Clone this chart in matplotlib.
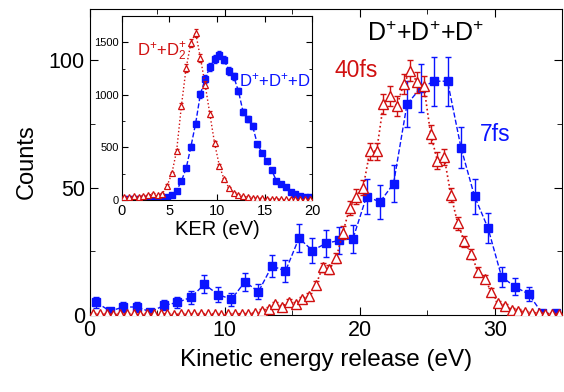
import numpy as np
import matplotlib
matplotlib.use("Agg")
from matplotlib import pyplot as plt
from matplotlib.ticker import MultipleLocator

plt.rcParams['font.family'] = ['Liberation Sans', 'DejaVu Sans']
plt.rcParams['mathtext.fontset'] = 'custom'
plt.rcParams['mathtext.rm'] = 'Liberation Sans'
plt.rcParams['mathtext.it'] = 'Liberation Sans'

BLUE = '#0a14ff'
RED = '#d01010'

# main panel: 7fs (blue squares), 1 eV bins
ker_7fs = np.arange(0.5, 35, 1.0)
counts_7fs = [5.0, 1.6, 3.2, 3.2, 1.3, 3.8, 5.0, 7.0, 12.1, 8.1,
              6.2, 13.1, 9.2, 19.3, 17.3, 30.2, 25.3, 28.2, 29.3, 30.0,
              46.5, 44.4, 51.5, 82.7, 89.0, 91.7, 91.7, 65.6, 46.6, 34.1,
              15.1, 11.1, 8.3, 0.8, 0.8]

# main panel: 40fs (red open triangles), 0.5 eV bins
ker_40fs = np.arange(0.25, 35, 0.5)
counts_40fs = [0.5, 0.3, 0.6, 0.2, 0.4, 0.5, 0.3, 0.2, 0.4, 0.6,
               0.3, 0.5, 0.2, 0.4, 0.3, 0.5, 0.6, 0.3, 0.4, 0.2,
               0.5, 0.4, 0.6, 0.5, 0.7, 1.7, 2.6, 4.3, 3.3, 5.2,
               4.3, 6.2, 7.5, 11.8, 18.8, 18.0, 22.3, 32.4, 42.0, 46.5,
               50.0, 64.3, 64.3, 82.7, 85.9, 82.0, 90.6, 95.8, 91.2, 89.7,
               71.0, 60.5, 62.0, 47.1, 36.1, 28.9, 24.0, 17.0, 14.1, 9.2,
               4.8, 3.5, 2.2, 1.7, 1.3, 1.0, 0.8, 0.6, 0.5, 0.4]

# inset: two-body and three-body channels, 0.5 eV bins
ker_in = np.arange(0.25, 20, 0.5)
counts_3body = [5, 5, 5, 5, 8, 8, 10, 12, 18, 30,
                50, 88, 180, 300, 506, 727, 1006, 1151, 1265, 1338,
                1382, 1335, 1227, 1176, 1037, 838, 772, 702, 531, 449,
                370, 285, 183, 152, 120, 79, 57, 38, 32, 25]
counts_2body = [30, 25, 35, 28, 40, 45, 55, 45, 60,
                136, 253, 468, 892, 1255, 1493, 1591,
                1354, 1097, 816, 538, 326, 196, 117, 70,
                47, 35, 28, 22, 18, 15, 12, 10, 9, 8, 7, 6, 6, 5, 5, 5]

fig = plt.figure(figsize=(5.64, 3.92), dpi=100)
ax = fig.add_axes([0.159, 0.196, 0.838, 0.781])

c7 = np.array(counts_7fs)
c40 = np.array(counts_40fs)
ax.errorbar(ker_7fs, c7, yerr=np.sqrt(c7), fmt='s', color=BLUE, ms=6,
            capsize=2.5, elinewidth=1, capthick=1, zorder=2)
ax.plot(ker_7fs, c7, '--', color=BLUE, lw=1, zorder=1)
ax.plot(ker_40fs, c40, ':', color=RED, lw=1.2, zorder=3)
ax.errorbar(ker_40fs, c40, yerr=0.42 * np.sqrt(c40), fmt='^', color=RED,
            mfc='white', mec=RED, mew=1, ms=7, capsize=2.5, elinewidth=1,
            capthick=1, zorder=4)

ax.set_xlim(0, 35)
ax.set_ylim(0, 120)
ax.xaxis.set_major_locator(MultipleLocator(10))
ax.xaxis.set_minor_locator(MultipleLocator(5))
ax.yaxis.set_major_locator(MultipleLocator(50))
ax.yaxis.set_minor_locator(MultipleLocator(25))
ax.tick_params(which='both', direction='in', top=True, right=True,
               labelsize=15.5)
ax.tick_params(which='major', length=6)
ax.tick_params(which='minor', length=3.5)
ax.set_xlabel('Kinetic energy release (eV)', fontsize=17.5, labelpad=6)
ax.set_ylabel('Counts', fontsize=17, labelpad=8)

ax.text(24.9, 107.5, 'D$^{+}$+D$^{+}$+D$^{+}$', fontsize=18, ha='center',
        va='baseline')
ax.text(19.7, 93.2, '40fs', fontsize=16.5, color=RED, ha='center',
        va='baseline')
ax.text(30.05, 68.2, '7fs', fontsize=16.5, color=BLUE, ha='center',
        va='baseline')

# inset
axi = fig.add_axes([0.2163, 0.4898, 0.3369, 0.4694])
c3 = np.array(counts_3body, dtype=float)
c2 = np.array(counts_2body, dtype=float)
axi.plot(ker_in, c3, '--', color=BLUE, lw=1, zorder=1)
axi.errorbar(ker_in, c3, yerr=np.sqrt(c3), fmt='s', color=BLUE, ms=4.5,
             capsize=1.5, elinewidth=0.8, zorder=2)
axi.plot(ker_in, c2, ':', color=RED, lw=1, zorder=3)
axi.errorbar(ker_in, c2, yerr=np.sqrt(c2), fmt='^', color=RED, mfc='white',
             mec=RED, mew=0.9, ms=4.5, capsize=1.5, elinewidth=0.8, zorder=4)
axi.set_xlim(0, 20)
axi.set_ylim(0, 1750)
axi.xaxis.set_major_locator(MultipleLocator(5))
axi.yaxis.set_major_locator(MultipleLocator(500))
axi.yaxis.set_minor_locator(MultipleLocator(250))
axi.tick_params(which='both', direction='in', top=True, right=True)
axi.tick_params(axis='x', labelsize=10.5, length=4, pad=3)
axi.tick_params(axis='y', labelsize=8, length=4, pad=2)
axi.tick_params(which='minor', length=2.5)
axi.set_xlabel('KER (eV)', fontsize=14.5, labelpad=1)
axi.text(1.55, 1376, 'D$^{+}$+D$_{2}^{+}$', fontsize=12, color=RED,
         ha='left', va='baseline')
axi.text(12.35, 1085, 'D$^{+}$+D$^{+}$+D', fontsize=12, color=BLUE,
         ha='left', va='baseline')

fig.savefig('out.png', dpi=100)
